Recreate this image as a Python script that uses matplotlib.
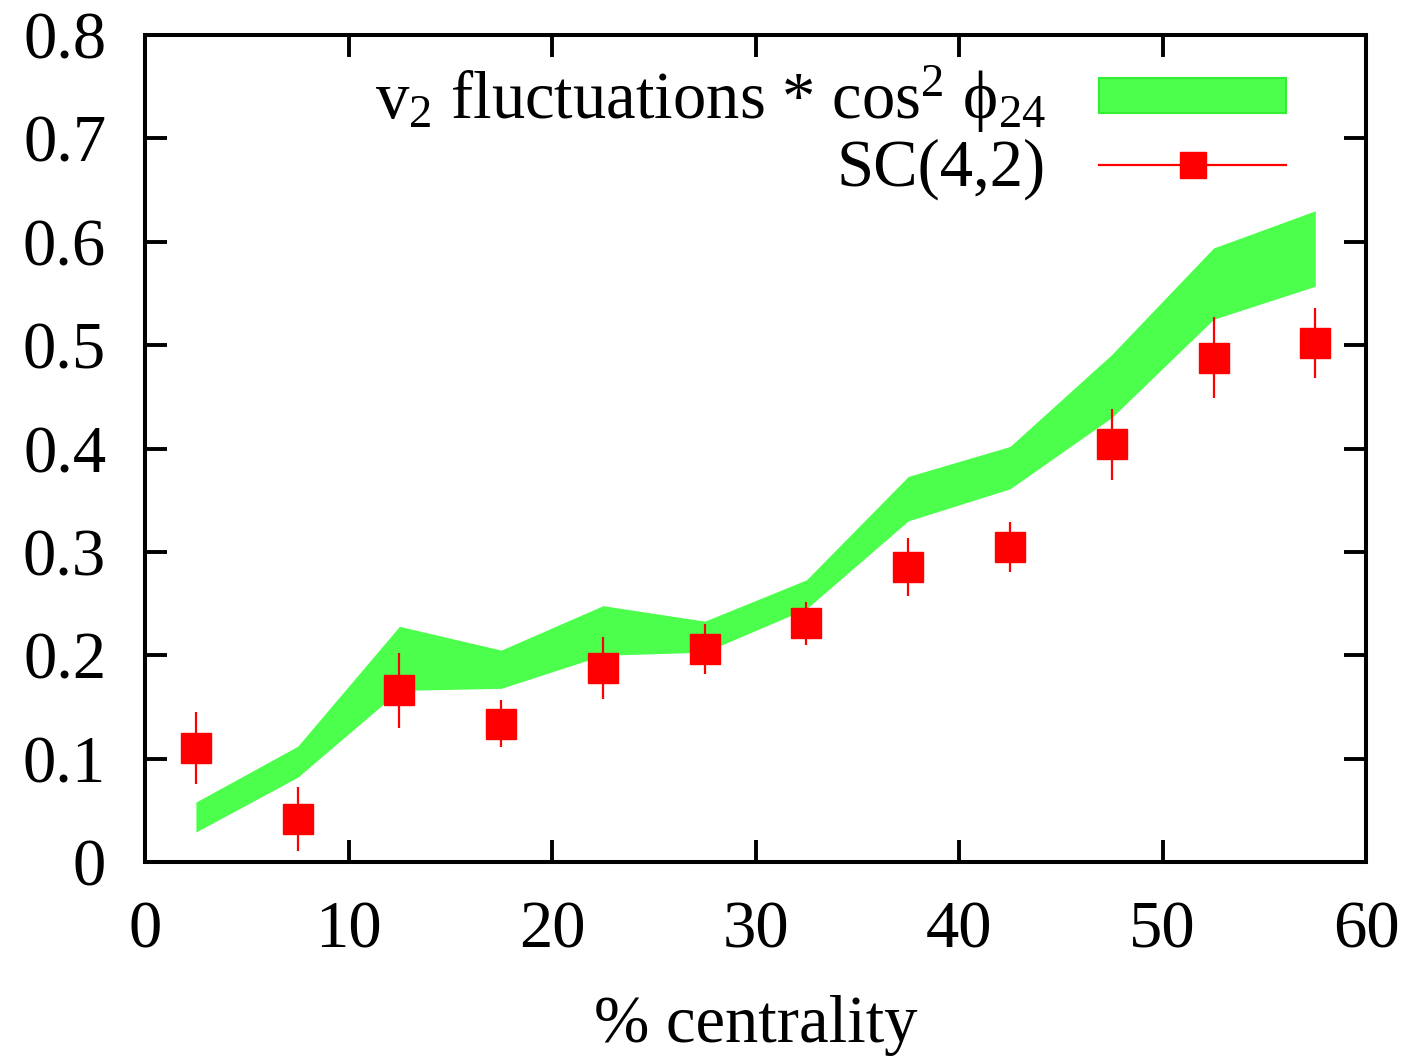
import matplotlib
matplotlib.use("Agg")
import matplotlib.pyplot as plt
from matplotlib.patches import Patch
from matplotlib.lines import Line2D
from matplotlib.ticker import MultipleLocator, FormatStrFormatter

plt.rcParams['font.family'] = ['Liberation Serif', 'DejaVu Serif']
plt.rcParams['mathtext.fontset'] = 'custom'
plt.rcParams['mathtext.rm'] = 'Liberation Serif'
plt.rcParams['mathtext.it'] = 'Liberation Serif:italic'
plt.rcParams['mathtext.default'] = 'regular'

# centrality bins (centres)
cent = [2.5, 7.5, 12.5, 17.5, 22.5, 27.5, 32.5, 37.5, 42.5, 47.5, 52.5, 57.5]
# v2 fluctuations * cos^2 phi24 band
band_lo = [0.029, 0.082, 0.166, 0.168, 0.200, 0.203, 0.245, 0.330, 0.361, 0.430, 0.525, 0.557]
band_hi = [0.058, 0.112, 0.228, 0.205, 0.248, 0.233, 0.273, 0.373, 0.402, 0.491, 0.594, 0.630]
# SC(4,2) data
sc42 = [0.110, 0.042, 0.166, 0.134, 0.188, 0.206, 0.231, 0.285, 0.305, 0.404, 0.488, 0.502]
sc42_err = [0.035, 0.031, 0.036, 0.023, 0.030, 0.024, 0.021, 0.028, 0.024, 0.034, 0.039, 0.034]

green = '#4dff4d'
fs = 48

fig = plt.figure(figsize=(14.15, 10.62), dpi=100)
ax = fig.add_axes([0.1025, 0.1883, 0.863, 0.7787])

ax.fill_between(cent, band_lo, band_hi, color=green, linewidth=0, zorder=2)
ax.errorbar(cent, sc42, yerr=sc42_err, fmt='s', color='red', ms=21,
            elinewidth=1.6, capsize=0, zorder=3)

ax.set_xlim(0, 60)
ax.set_ylim(0, 0.8)
ax.xaxis.set_major_locator(MultipleLocator(10))
ax.yaxis.set_major_locator(MultipleLocator(0.1))
ax.yaxis.set_major_formatter(FormatStrFormatter('%g'))
ax.tick_params(direction='in', length=16, width=2.8, labelsize=fs,
               top=True, right=True, pad=28)
for s in ax.spines.values():
    s.set_linewidth(2.9)
ax.set_xlabel('% centrality', fontsize=fs, labelpad=24)

handles = [Patch(facecolor=green, edgecolor='#33ee33', linewidth=1.5),
           Line2D([], [], color='red', marker='s', ms=19, lw=1.6)]
labels = [r'v$_2$ fluctuations * cos$^2$ ϕ$_{24}$', 'SC(4,2)']
ax.legend(handles, labels, loc='upper right', frameon=False, markerfirst=False,
          fontsize=fs, handlelength=2.8, handleheight=0.42, labelspacing=0.05,
          handletextpad=0.8, bbox_to_anchor=(0.967, 1.013), borderaxespad=0.2)

fig.savefig('out.png', dpi=100)
